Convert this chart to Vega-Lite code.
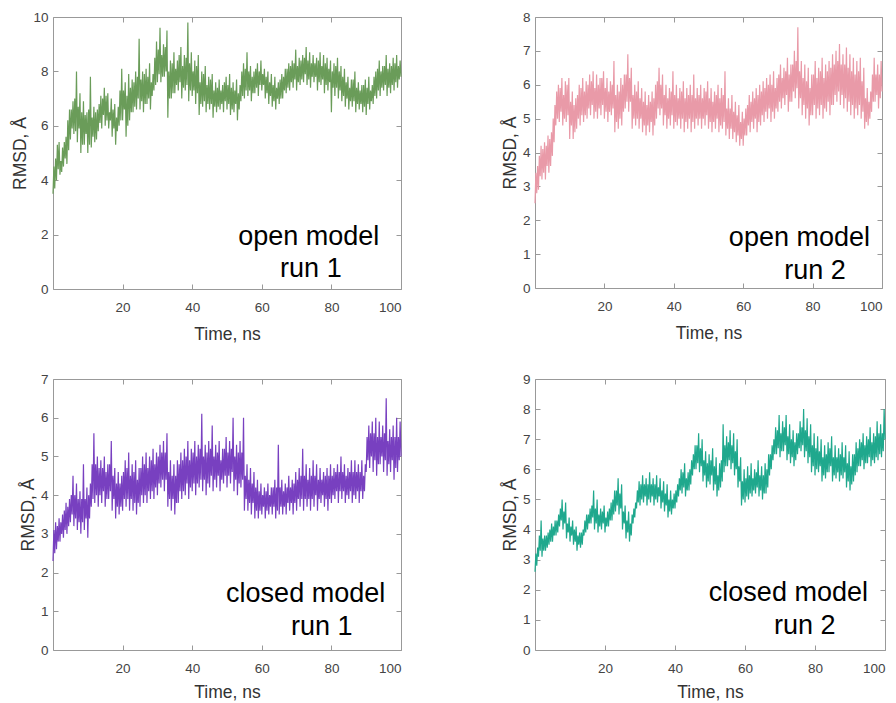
{
  "$schema": "https://vega.github.io/schema/vega-lite/v6.json",
  "padding": {"left": 11, "top": 9, "right": 5, "bottom": 0},
  "spacing": 27,
  "config": {
    "font": "Liberation Sans",
    "view": {"stroke": "#999999", "strokeWidth": 1},
    "axis": {"grid": false, "domain": false, "labelFont": "Liberation Sans", "labelFontSize": 13.5, "labelColor": "#444444", "titleFont": "Liberation Sans", "titleFontSize": 17.5, "titleFontWeight": "normal", "titleColor": "#333333", "tickColor": "#999999", "tickSize": -5},
    "axisX": {"labelPadding": 16, "titlePadding": 12, "titleFontSize": 17.5, "labelFontSize": 13.5},
    "axisY": {"labelPadding": 10, "titlePadding": 3, "titleFontSize": 17.5, "labelFontSize": 13.5}
  },
  "datasets": {
    "o1": [{"t":0,"v":3.5},{"t":0.25,"v":4.5},{"t":0.5,"v":3.7},{"t":0.75,"v":4.8},{"t":1,"v":4.0},{"t":1.25,"v":5.3},{"t":1.5,"v":4.4},{"t":1.75,"v":5.4},{"t":2,"v":4.2},{"t":2.25,"v":4.7},{"t":2.5,"v":4.3},{"t":2.75,"v":5.2},{"t":3,"v":4.5},{"t":3.25,"v":5.4},{"t":3.5,"v":4.8},{"t":3.75,"v":5.6},{"t":4,"v":4.6},{"t":4.25,"v":6.2},{"t":4.5,"v":5.1},{"t":4.75,"v":6.6},{"t":5,"v":5.5},{"t":5.25,"v":6.6},{"t":5.5,"v":5.9},{"t":5.75,"v":6.9},{"t":6,"v":5.7},{"t":6.25,"v":7.0},{"t":6.5,"v":5.8},{"t":6.75,"v":8.0},{"t":7,"v":5.4},{"t":7.25,"v":6.7},{"t":7.5,"v":5.9},{"t":7.75,"v":7.2},{"t":8,"v":5.0},{"t":8.25,"v":6.5},{"t":8.5,"v":5.3},{"t":8.75,"v":6.9},{"t":9,"v":5.3},{"t":9.25,"v":6.4},{"t":9.5,"v":5.7},{"t":9.75,"v":6.5},{"t":10,"v":5.0},{"t":10.25,"v":6.6},{"t":10.5,"v":5.3},{"t":10.75,"v":7.8},{"t":11,"v":5.2},{"t":11.25,"v":6.3},{"t":11.5,"v":5.6},{"t":11.75,"v":6.7},{"t":12,"v":5.4},{"t":12.25,"v":6.5},{"t":12.5,"v":5.5},{"t":12.75,"v":6.6},{"t":13,"v":5.8},{"t":13.25,"v":6.8},{"t":13.5,"v":6.1},{"t":13.75,"v":7.1},{"t":14,"v":5.9},{"t":14.25,"v":7.0},{"t":14.5,"v":6.4},{"t":14.75,"v":7.4},{"t":15,"v":6.0},{"t":15.25,"v":7.1},{"t":15.5,"v":6.2},{"t":15.75,"v":7.2},{"t":16,"v":5.9},{"t":16.25,"v":6.5},{"t":16.5,"v":6.2},{"t":16.75,"v":7.0},{"t":17,"v":5.6},{"t":17.25,"v":6.6},{"t":17.5,"v":5.9},{"t":17.75,"v":6.8},{"t":18,"v":5.3},{"t":18.25,"v":6.3},{"t":18.5,"v":5.8},{"t":18.75,"v":6.7},{"t":19,"v":6.0},{"t":19.25,"v":7.3},{"t":19.5,"v":6.2},{"t":19.75,"v":8.1},{"t":20,"v":6.2},{"t":20.25,"v":7.3},{"t":20.5,"v":6.6},{"t":20.75,"v":7.6},{"t":21,"v":5.6},{"t":21.25,"v":7.1},{"t":21.5,"v":6.0},{"t":21.75,"v":7.9},{"t":22,"v":6.2},{"t":22.25,"v":7.4},{"t":22.5,"v":6.5},{"t":22.75,"v":7.7},{"t":23,"v":6.5},{"t":23.25,"v":7.6},{"t":23.5,"v":6.7},{"t":23.75,"v":8.0},{"t":24,"v":6.6},{"t":24.25,"v":7.8},{"t":24.5,"v":7.0},{"t":24.75,"v":9.2},{"t":25,"v":6.6},{"t":25.25,"v":7.7},{"t":25.5,"v":6.9},{"t":25.75,"v":8.0},{"t":26,"v":6.5},{"t":26.25,"v":7.9},{"t":26.5,"v":6.8},{"t":26.75,"v":8.1},{"t":27,"v":6.8},{"t":27.25,"v":7.8},{"t":27.5,"v":7.0},{"t":27.75,"v":8.3},{"t":28,"v":6.6},{"t":28.25,"v":7.6},{"t":28.5,"v":7.1},{"t":28.75,"v":7.9},{"t":29,"v":7.3},{"t":29.25,"v":8.5},{"t":29.5,"v":7.5},{"t":29.75,"v":9.1},{"t":30,"v":7.6},{"t":30.25,"v":8.8},{"t":30.5,"v":7.9},{"t":30.75,"v":9.6},{"t":31,"v":7.6},{"t":31.25,"v":8.6},{"t":31.5,"v":7.8},{"t":31.75,"v":9.0},{"t":32,"v":7.8},{"t":32.25,"v":8.9},{"t":32.5,"v":8.0},{"t":32.75,"v":9.5},{"t":33,"v":6.3},{"t":33.25,"v":8.0},{"t":33.5,"v":7.0},{"t":33.75,"v":8.4},{"t":34,"v":7.0},{"t":34.25,"v":8.3},{"t":34.5,"v":7.2},{"t":34.75,"v":8.7},{"t":35,"v":7.2},{"t":35.25,"v":8.1},{"t":35.5,"v":7.5},{"t":35.75,"v":8.4},{"t":36,"v":7.3},{"t":36.25,"v":8.6},{"t":36.5,"v":7.6},{"t":36.75,"v":8.9},{"t":37,"v":7.0},{"t":37.25,"v":8.2},{"t":37.5,"v":7.4},{"t":37.75,"v":8.6},{"t":38,"v":7.3},{"t":38.25,"v":8.5},{"t":38.5,"v":7.5},{"t":38.75,"v":9.8},{"t":39,"v":6.9},{"t":39.25,"v":8.3},{"t":39.5,"v":7.3},{"t":39.75,"v":8.7},{"t":40,"v":7.1},{"t":40.25,"v":8.0},{"t":40.5,"v":7.3},{"t":40.75,"v":8.4},{"t":41,"v":6.8},{"t":41.25,"v":8.2},{"t":41.5,"v":7.2},{"t":41.75,"v":8.6},{"t":42,"v":6.4},{"t":42.25,"v":7.6},{"t":42.5,"v":6.8},{"t":42.75,"v":8.0},{"t":43,"v":6.7},{"t":43.25,"v":7.9},{"t":43.5,"v":6.9},{"t":43.75,"v":8.2},{"t":44,"v":6.5},{"t":44.25,"v":7.5},{"t":44.5,"v":6.8},{"t":44.75,"v":7.8},{"t":45,"v":6.6},{"t":45.25,"v":7.7},{"t":45.5,"v":6.8},{"t":45.75,"v":7.9},{"t":46,"v":6.3},{"t":46.25,"v":7.3},{"t":46.5,"v":6.7},{"t":46.75,"v":7.6},{"t":47,"v":6.5},{"t":47.25,"v":7.4},{"t":47.5,"v":6.7},{"t":47.75,"v":7.7},{"t":48,"v":6.6},{"t":48.25,"v":7.3},{"t":48.5,"v":6.8},{"t":48.75,"v":7.5},{"t":49,"v":6.5},{"t":49.25,"v":7.6},{"t":49.5,"v":6.9},{"t":49.75,"v":7.8},{"t":50,"v":6.6},{"t":50.25,"v":7.5},{"t":50.5,"v":6.8},{"t":50.75,"v":7.9},{"t":51,"v":6.4},{"t":51.25,"v":7.4},{"t":51.5,"v":6.6},{"t":51.75,"v":7.6},{"t":52,"v":6.5},{"t":52.25,"v":7.3},{"t":52.5,"v":6.8},{"t":52.75,"v":7.7},{"t":53,"v":6.2},{"t":53.25,"v":7.2},{"t":53.5,"v":6.6},{"t":53.75,"v":7.5},{"t":54,"v":6.9},{"t":54.25,"v":8.0},{"t":54.5,"v":7.1},{"t":54.75,"v":8.3},{"t":55,"v":7.0},{"t":55.25,"v":8.1},{"t":55.5,"v":7.3},{"t":55.75,"v":8.7},{"t":56,"v":7.1},{"t":56.25,"v":8.0},{"t":56.5,"v":7.3},{"t":56.75,"v":8.2},{"t":57,"v":6.9},{"t":57.25,"v":7.8},{"t":57.5,"v":7.2},{"t":57.75,"v":8.0},{"t":58,"v":7.2},{"t":58.25,"v":8.1},{"t":58.5,"v":7.4},{"t":58.75,"v":8.3},{"t":59,"v":7.1},{"t":59.25,"v":8.0},{"t":59.5,"v":7.5},{"t":59.75,"v":8.4},{"t":60,"v":7.3},{"t":60.25,"v":7.9},{"t":60.5,"v":7.5},{"t":60.75,"v":8.1},{"t":61,"v":7.0},{"t":61.25,"v":7.8},{"t":61.5,"v":7.2},{"t":61.75,"v":8.0},{"t":62,"v":6.8},{"t":62.25,"v":7.6},{"t":62.5,"v":7.1},{"t":62.75,"v":7.9},{"t":63,"v":6.7},{"t":63.25,"v":7.5},{"t":63.5,"v":6.9},{"t":63.75,"v":7.8},{"t":64,"v":6.6},{"t":64.25,"v":7.4},{"t":64.5,"v":7.0},{"t":64.75,"v":7.6},{"t":65,"v":6.8},{"t":65.25,"v":7.7},{"t":65.5,"v":7.0},{"t":65.75,"v":7.9},{"t":66,"v":7.0},{"t":66.25,"v":7.8},{"t":66.5,"v":7.3},{"t":66.75,"v":8.1},{"t":67,"v":7.2},{"t":67.25,"v":8.1},{"t":67.5,"v":7.4},{"t":67.75,"v":8.3},{"t":68,"v":7.3},{"t":68.25,"v":8.2},{"t":68.5,"v":7.6},{"t":68.75,"v":8.4},{"t":69,"v":7.4},{"t":69.25,"v":8.3},{"t":69.5,"v":7.7},{"t":69.75,"v":8.8},{"t":70,"v":7.3},{"t":70.25,"v":8.2},{"t":70.5,"v":7.6},{"t":70.75,"v":8.5},{"t":71,"v":7.5},{"t":71.25,"v":8.4},{"t":71.5,"v":7.7},{"t":71.75,"v":8.6},{"t":72,"v":7.6},{"t":72.25,"v":8.5},{"t":72.5,"v":7.9},{"t":72.75,"v":8.9},{"t":73,"v":7.5},{"t":73.25,"v":8.4},{"t":73.5,"v":7.7},{"t":73.75,"v":8.7},{"t":74,"v":7.4},{"t":74.25,"v":8.3},{"t":74.5,"v":7.8},{"t":74.75,"v":8.6},{"t":75,"v":7.6},{"t":75.25,"v":8.3},{"t":75.5,"v":7.8},{"t":75.75,"v":8.5},{"t":76,"v":7.3},{"t":76.25,"v":8.4},{"t":76.5,"v":7.6},{"t":76.75,"v":8.7},{"t":77,"v":7.5},{"t":77.25,"v":8.2},{"t":77.5,"v":7.7},{"t":77.75,"v":8.6},{"t":78,"v":7.2},{"t":78.25,"v":8.3},{"t":78.5,"v":7.5},{"t":78.75,"v":8.5},{"t":79,"v":7.3},{"t":79.25,"v":8.1},{"t":79.5,"v":7.6},{"t":79.75,"v":8.4},{"t":80,"v":6.5},{"t":80.25,"v":8.0},{"t":80.5,"v":7.4},{"t":80.75,"v":8.3},{"t":81,"v":7.1},{"t":81.25,"v":8.2},{"t":81.5,"v":7.4},{"t":81.75,"v":8.5},{"t":82,"v":7.0},{"t":82.25,"v":8.0},{"t":82.5,"v":7.3},{"t":82.75,"v":8.2},{"t":83,"v":6.9},{"t":83.25,"v":7.8},{"t":83.5,"v":7.1},{"t":83.75,"v":8.1},{"t":84,"v":6.7},{"t":84.25,"v":7.6},{"t":84.5,"v":7.0},{"t":84.75,"v":7.8},{"t":85,"v":6.6},{"t":85.25,"v":7.4},{"t":85.5,"v":6.9},{"t":85.75,"v":7.7},{"t":86,"v":6.7},{"t":86.25,"v":7.7},{"t":86.5,"v":6.9},{"t":86.75,"v":8.0},{"t":87,"v":6.5},{"t":87.25,"v":7.4},{"t":87.5,"v":6.8},{"t":87.75,"v":7.6},{"t":88,"v":6.6},{"t":88.25,"v":7.3},{"t":88.5,"v":6.8},{"t":88.75,"v":7.5},{"t":89,"v":6.5},{"t":89.25,"v":7.5},{"t":89.5,"v":6.7},{"t":89.75,"v":7.7},{"t":90,"v":6.4},{"t":90.25,"v":7.4},{"t":90.5,"v":6.8},{"t":90.75,"v":7.8},{"t":91,"v":6.6},{"t":91.25,"v":7.3},{"t":91.5,"v":6.9},{"t":91.75,"v":7.5},{"t":92,"v":6.8},{"t":92.25,"v":7.8},{"t":92.5,"v":7.1},{"t":92.75,"v":8.0},{"t":93,"v":7.0},{"t":93.25,"v":8.1},{"t":93.5,"v":7.3},{"t":93.75,"v":8.4},{"t":94,"v":7.1},{"t":94.25,"v":8.0},{"t":94.5,"v":7.4},{"t":94.75,"v":8.2},{"t":95,"v":7.3},{"t":95.25,"v":8.2},{"t":95.5,"v":7.5},{"t":95.75,"v":8.6},{"t":96,"v":7.1},{"t":96.25,"v":8.1},{"t":96.5,"v":7.4},{"t":96.75,"v":8.3},{"t":97,"v":7.2},{"t":97.25,"v":8.2},{"t":97.5,"v":7.5},{"t":97.75,"v":8.5},{"t":98,"v":7.3},{"t":98.25,"v":8.3},{"t":98.5,"v":7.6},{"t":98.75,"v":8.6},{"t":99,"v":7.4},{"t":99.25,"v":8.2},{"t":99.5,"v":7.7},{"t":99.75,"v":8.4},{"t":100,"v":7.8}],
    "o2": [{"t":0,"v":2.5},{"t":0.25,"v":3.4},{"t":0.5,"v":2.8},{"t":0.75,"v":3.6},{"t":1,"v":2.9},{"t":1.25,"v":3.9},{"t":1.5,"v":3.3},{"t":1.75,"v":4.2},{"t":2,"v":3.2},{"t":2.25,"v":4.1},{"t":2.5,"v":3.4},{"t":2.75,"v":4.3},{"t":3,"v":3.2},{"t":3.25,"v":4.2},{"t":3.5,"v":3.6},{"t":3.75,"v":4.5},{"t":4,"v":3.4},{"t":4.25,"v":4.4},{"t":4.5,"v":3.6},{"t":4.75,"v":4.6},{"t":5,"v":3.9},{"t":5.25,"v":5.0},{"t":5.5,"v":4.3},{"t":5.75,"v":5.4},{"t":6,"v":4.8},{"t":6.25,"v":5.8},{"t":6.5,"v":5.0},{"t":6.75,"v":6.0},{"t":7,"v":4.9},{"t":7.25,"v":5.9},{"t":7.5,"v":5.2},{"t":7.75,"v":6.2},{"t":8,"v":4.8},{"t":8.25,"v":5.7},{"t":8.5,"v":5.0},{"t":8.75,"v":6.1},{"t":9,"v":4.9},{"t":9.25,"v":6.0},{"t":9.5,"v":5.1},{"t":9.75,"v":6.2},{"t":10,"v":4.4},{"t":10.25,"v":5.5},{"t":10.5,"v":4.8},{"t":10.75,"v":5.8},{"t":11,"v":4.4},{"t":11.25,"v":5.4},{"t":11.5,"v":4.6},{"t":11.75,"v":5.6},{"t":12,"v":4.7},{"t":12.25,"v":5.7},{"t":12.5,"v":5.0},{"t":12.75,"v":6.0},{"t":13,"v":4.8},{"t":13.25,"v":5.9},{"t":13.5,"v":5.1},{"t":13.75,"v":6.2},{"t":14,"v":4.9},{"t":14.25,"v":5.8},{"t":14.5,"v":5.1},{"t":14.75,"v":6.1},{"t":15,"v":5.0},{"t":15.25,"v":6.0},{"t":15.5,"v":5.3},{"t":15.75,"v":6.3},{"t":16,"v":5.1},{"t":16.25,"v":6.1},{"t":16.5,"v":5.4},{"t":16.75,"v":6.4},{"t":17,"v":5.0},{"t":17.25,"v":5.9},{"t":17.5,"v":5.2},{"t":17.75,"v":6.3},{"t":18,"v":5.0},{"t":18.25,"v":6.0},{"t":18.5,"v":5.3},{"t":18.75,"v":6.2},{"t":19,"v":5.1},{"t":19.25,"v":6.2},{"t":19.5,"v":5.4},{"t":19.75,"v":6.4},{"t":20,"v":5.0},{"t":20.25,"v":5.9},{"t":20.5,"v":5.2},{"t":20.75,"v":6.2},{"t":21,"v":4.9},{"t":21.25,"v":5.8},{"t":21.5,"v":5.2},{"t":21.75,"v":6.1},{"t":22,"v":5.1},{"t":22.25,"v":6.0},{"t":22.5,"v":5.3},{"t":22.75,"v":6.7},{"t":23,"v":4.6},{"t":23.25,"v":5.7},{"t":23.5,"v":4.9},{"t":23.75,"v":6.0},{"t":24,"v":4.7},{"t":24.25,"v":5.8},{"t":24.5,"v":5.0},{"t":24.75,"v":6.2},{"t":25,"v":4.8},{"t":25.25,"v":6.0},{"t":25.5,"v":5.2},{"t":25.75,"v":6.3},{"t":26,"v":5.3},{"t":26.25,"v":6.3},{"t":26.5,"v":5.5},{"t":26.75,"v":6.9},{"t":27,"v":5.2},{"t":27.25,"v":6.2},{"t":27.5,"v":5.5},{"t":27.75,"v":6.5},{"t":28,"v":4.7},{"t":28.25,"v":5.7},{"t":28.5,"v":5.0},{"t":28.75,"v":6.0},{"t":29,"v":4.8},{"t":29.25,"v":5.8},{"t":29.5,"v":5.0},{"t":29.75,"v":6.1},{"t":30,"v":4.7},{"t":30.25,"v":5.6},{"t":30.5,"v":5.0},{"t":30.75,"v":5.9},{"t":31,"v":4.6},{"t":31.25,"v":5.5},{"t":31.5,"v":4.8},{"t":31.75,"v":5.8},{"t":32,"v":4.5},{"t":32.25,"v":5.4},{"t":32.5,"v":4.8},{"t":32.75,"v":5.7},{"t":33,"v":4.6},{"t":33.25,"v":5.5},{"t":33.5,"v":4.9},{"t":33.75,"v":5.8},{"t":34,"v":4.5},{"t":34.25,"v":5.6},{"t":34.5,"v":4.8},{"t":34.75,"v":6.0},{"t":35,"v":5.0},{"t":35.25,"v":6.1},{"t":35.5,"v":5.3},{"t":35.75,"v":6.5},{"t":36,"v":5.1},{"t":36.25,"v":6.0},{"t":36.5,"v":5.3},{"t":36.75,"v":6.3},{"t":37,"v":4.8},{"t":37.25,"v":5.7},{"t":37.5,"v":5.1},{"t":37.75,"v":6.0},{"t":38,"v":4.7},{"t":38.25,"v":5.6},{"t":38.5,"v":5.0},{"t":38.75,"v":5.9},{"t":39,"v":4.8},{"t":39.25,"v":5.8},{"t":39.5,"v":5.1},{"t":39.75,"v":6.4},{"t":40,"v":4.7},{"t":40.25,"v":5.7},{"t":40.5,"v":4.9},{"t":40.75,"v":6.0},{"t":41,"v":4.8},{"t":41.25,"v":5.6},{"t":41.5,"v":5.0},{"t":41.75,"v":5.9},{"t":42,"v":4.7},{"t":42.25,"v":5.8},{"t":42.5,"v":5.0},{"t":42.75,"v":6.1},{"t":43,"v":4.6},{"t":43.25,"v":5.6},{"t":43.5,"v":4.9},{"t":43.75,"v":5.9},{"t":44,"v":4.7},{"t":44.25,"v":5.7},{"t":44.5,"v":5.0},{"t":44.75,"v":6.0},{"t":45,"v":4.6},{"t":45.25,"v":5.7},{"t":45.5,"v":4.9},{"t":45.75,"v":6.3},{"t":46,"v":4.7},{"t":46.25,"v":5.6},{"t":46.5,"v":5.0},{"t":46.75,"v":5.9},{"t":47,"v":4.8},{"t":47.25,"v":5.7},{"t":47.5,"v":5.0},{"t":47.75,"v":6.0},{"t":48,"v":4.7},{"t":48.25,"v":5.6},{"t":48.5,"v":5.0},{"t":48.75,"v":5.9},{"t":49,"v":4.8},{"t":49.25,"v":5.8},{"t":49.5,"v":5.1},{"t":49.75,"v":6.1},{"t":50,"v":4.7},{"t":50.25,"v":5.6},{"t":50.5,"v":4.9},{"t":50.75,"v":5.9},{"t":51,"v":4.6},{"t":51.25,"v":5.5},{"t":51.5,"v":4.9},{"t":51.75,"v":5.8},{"t":52,"v":4.7},{"t":52.25,"v":5.7},{"t":52.5,"v":5.0},{"t":52.75,"v":6.0},{"t":53,"v":4.6},{"t":53.25,"v":5.6},{"t":53.5,"v":4.8},{"t":53.75,"v":5.9},{"t":54,"v":4.7},{"t":54.25,"v":5.7},{"t":54.5,"v":4.9},{"t":54.75,"v":6.4},{"t":55,"v":4.5},{"t":55.25,"v":5.3},{"t":55.5,"v":4.7},{"t":55.75,"v":5.6},{"t":56,"v":4.4},{"t":56.25,"v":5.3},{"t":56.5,"v":4.7},{"t":56.75,"v":5.7},{"t":57,"v":4.4},{"t":57.25,"v":5.2},{"t":57.5,"v":4.6},{"t":57.75,"v":5.5},{"t":58,"v":4.3},{"t":58.25,"v":5.1},{"t":58.5,"v":4.5},{"t":58.75,"v":5.4},{"t":59,"v":4.2},{"t":59.25,"v":4.9},{"t":59.5,"v":4.4},{"t":59.75,"v":5.2},{"t":60,"v":4.2},{"t":60.25,"v":5.0},{"t":60.5,"v":4.5},{"t":60.75,"v":5.3},{"t":61,"v":4.5},{"t":61.25,"v":5.4},{"t":61.5,"v":4.8},{"t":61.75,"v":5.7},{"t":62,"v":4.6},{"t":62.25,"v":5.5},{"t":62.5,"v":4.9},{"t":62.75,"v":5.8},{"t":63,"v":4.7},{"t":63.25,"v":5.6},{"t":63.5,"v":5.0},{"t":63.75,"v":5.9},{"t":64,"v":4.6},{"t":64.25,"v":5.7},{"t":64.5,"v":4.9},{"t":64.75,"v":6.0},{"t":65,"v":4.8},{"t":65.25,"v":5.8},{"t":65.5,"v":5.1},{"t":65.75,"v":6.1},{"t":66,"v":4.9},{"t":66.25,"v":5.9},{"t":66.5,"v":5.2},{"t":66.75,"v":6.2},{"t":67,"v":5.0},{"t":67.25,"v":6.0},{"t":67.5,"v":5.3},{"t":67.75,"v":6.3},{"t":68,"v":4.9},{"t":68.25,"v":6.0},{"t":68.5,"v":5.2},{"t":68.75,"v":6.4},{"t":69,"v":5.0},{"t":69.25,"v":5.9},{"t":69.5,"v":5.3},{"t":69.75,"v":6.2},{"t":70,"v":5.2},{"t":70.25,"v":6.3},{"t":70.5,"v":5.5},{"t":70.75,"v":6.6},{"t":71,"v":5.3},{"t":71.25,"v":6.2},{"t":71.5,"v":5.6},{"t":71.75,"v":6.5},{"t":72,"v":5.4},{"t":72.25,"v":6.4},{"t":72.5,"v":5.7},{"t":72.75,"v":6.8},{"t":73,"v":5.2},{"t":73.25,"v":6.3},{"t":73.5,"v":5.5},{"t":73.75,"v":6.6},{"t":74,"v":5.5},{"t":74.25,"v":6.6},{"t":74.5,"v":5.8},{"t":74.75,"v":7.0},{"t":75,"v":5.6},{"t":75.25,"v":6.7},{"t":75.5,"v":5.9},{"t":75.75,"v":7.7},{"t":76,"v":5.3},{"t":76.25,"v":6.4},{"t":76.5,"v":5.6},{"t":76.75,"v":6.7},{"t":77,"v":5.1},{"t":77.25,"v":6.2},{"t":77.5,"v":5.4},{"t":77.75,"v":6.6},{"t":78,"v":5.0},{"t":78.25,"v":6.1},{"t":78.5,"v":5.3},{"t":78.75,"v":6.5},{"t":79,"v":4.8},{"t":79.25,"v":5.9},{"t":79.5,"v":5.1},{"t":79.75,"v":6.3},{"t":80,"v":5.1},{"t":80.25,"v":6.3},{"t":80.5,"v":5.4},{"t":80.75,"v":6.7},{"t":81,"v":5.0},{"t":81.25,"v":6.2},{"t":81.5,"v":5.3},{"t":81.75,"v":6.5},{"t":82,"v":5.1},{"t":82.25,"v":6.4},{"t":82.5,"v":5.4},{"t":82.75,"v":6.8},{"t":83,"v":5.0},{"t":83.25,"v":6.2},{"t":83.5,"v":5.3},{"t":83.75,"v":6.6},{"t":84,"v":5.2},{"t":84.25,"v":6.4},{"t":84.5,"v":5.5},{"t":84.75,"v":6.7},{"t":85,"v":5.1},{"t":85.25,"v":6.5},{"t":85.5,"v":5.4},{"t":85.75,"v":6.9},{"t":86,"v":5.4},{"t":86.25,"v":6.6},{"t":86.5,"v":5.7},{"t":86.75,"v":7.0},{"t":87,"v":5.5},{"t":87.25,"v":6.7},{"t":87.5,"v":5.8},{"t":87.75,"v":7.2},{"t":88,"v":5.4},{"t":88.25,"v":6.6},{"t":88.5,"v":5.7},{"t":88.75,"v":6.9},{"t":89,"v":5.3},{"t":89.25,"v":6.6},{"t":89.5,"v":5.6},{"t":89.75,"v":7.1},{"t":90,"v":5.2},{"t":90.25,"v":6.5},{"t":90.5,"v":5.5},{"t":90.75,"v":6.9},{"t":91,"v":5.1},{"t":91.25,"v":6.4},{"t":91.5,"v":5.4},{"t":91.75,"v":6.8},{"t":92,"v":5.0},{"t":92.25,"v":6.3},{"t":92.5,"v":5.3},{"t":92.75,"v":6.7},{"t":93,"v":5.1},{"t":93.25,"v":6.4},{"t":93.5,"v":5.4},{"t":93.75,"v":6.8},{"t":94,"v":5.0},{"t":94.25,"v":6.1},{"t":94.5,"v":5.2},{"t":94.75,"v":6.5},{"t":95,"v":4.7},{"t":95.25,"v":5.6},{"t":95.5,"v":4.9},{"t":95.75,"v":5.9},{"t":96,"v":4.8},{"t":96.25,"v":5.5},{"t":96.5,"v":5.0},{"t":96.75,"v":5.8},{"t":97,"v":5.2},{"t":97.25,"v":6.3},{"t":97.5,"v":5.5},{"t":97.75,"v":6.8},{"t":98,"v":5.5},{"t":98.25,"v":6.3},{"t":98.5,"v":5.7},{"t":98.75,"v":6.6},{"t":99,"v":5.3},{"t":99.25,"v":6.3},{"t":99.5,"v":5.6},{"t":99.75,"v":6.7},{"t":100,"v":5.8}],
    "c1": [{"t":0,"v":2.3},{"t":0.25,"v":3.1},{"t":0.5,"v":2.5},{"t":0.75,"v":3.3},{"t":1,"v":2.6},{"t":1.25,"v":3.2},{"t":1.5,"v":2.8},{"t":1.75,"v":3.4},{"t":2,"v":2.8},{"t":2.25,"v":3.3},{"t":2.5,"v":3.0},{"t":2.75,"v":3.5},{"t":3,"v":2.9},{"t":3.25,"v":3.6},{"t":3.5,"v":3.1},{"t":3.75,"v":3.8},{"t":4,"v":3.0},{"t":4.25,"v":3.7},{"t":4.5,"v":3.2},{"t":4.75,"v":3.9},{"t":5,"v":3.3},{"t":5.25,"v":4.0},{"t":5.5,"v":3.5},{"t":5.75,"v":4.5},{"t":6,"v":3.2},{"t":6.25,"v":4.0},{"t":6.5,"v":3.4},{"t":6.75,"v":4.3},{"t":7,"v":3.1},{"t":7.25,"v":3.9},{"t":7.5,"v":3.3},{"t":7.75,"v":4.1},{"t":8,"v":3.0},{"t":8.25,"v":3.9},{"t":8.5,"v":3.3},{"t":8.75,"v":4.8},{"t":9,"v":3.1},{"t":9.25,"v":3.9},{"t":9.5,"v":3.4},{"t":9.75,"v":4.2},{"t":10,"v":2.9},{"t":10.25,"v":4.0},{"t":10.5,"v":3.4},{"t":10.75,"v":4.3},{"t":11,"v":3.7},{"t":11.25,"v":4.8},{"t":11.5,"v":3.9},{"t":11.75,"v":5.6},{"t":12,"v":3.8},{"t":12.25,"v":4.8},{"t":12.5,"v":4.0},{"t":12.75,"v":5.0},{"t":13,"v":3.7},{"t":13.25,"v":4.7},{"t":13.5,"v":4.0},{"t":13.75,"v":4.9},{"t":14,"v":3.8},{"t":14.25,"v":4.7},{"t":14.5,"v":4.1},{"t":14.75,"v":5.0},{"t":15,"v":3.7},{"t":15.25,"v":4.6},{"t":15.5,"v":3.9},{"t":15.75,"v":4.8},{"t":16,"v":3.9},{"t":16.25,"v":4.8},{"t":16.5,"v":4.1},{"t":16.75,"v":5.4},{"t":17,"v":3.6},{"t":17.25,"v":4.5},{"t":17.5,"v":3.9},{"t":17.75,"v":4.7},{"t":18,"v":3.4},{"t":18.25,"v":4.3},{"t":18.5,"v":3.7},{"t":18.75,"v":4.6},{"t":19,"v":3.5},{"t":19.25,"v":4.3},{"t":19.5,"v":3.7},{"t":19.75,"v":4.5},{"t":20,"v":3.6},{"t":20.25,"v":4.6},{"t":20.5,"v":3.9},{"t":20.75,"v":4.9},{"t":21,"v":3.7},{"t":21.25,"v":4.7},{"t":21.5,"v":3.9},{"t":21.75,"v":5.1},{"t":22,"v":3.6},{"t":22.25,"v":4.5},{"t":22.5,"v":3.9},{"t":22.75,"v":4.8},{"t":23,"v":3.6},{"t":23.25,"v":4.6},{"t":23.5,"v":3.8},{"t":23.75,"v":4.9},{"t":24,"v":3.5},{"t":24.25,"v":4.4},{"t":24.5,"v":3.8},{"t":24.75,"v":4.7},{"t":25,"v":3.7},{"t":25.25,"v":4.7},{"t":25.5,"v":4.0},{"t":25.75,"v":5.0},{"t":26,"v":3.8},{"t":26.25,"v":4.8},{"t":26.5,"v":4.0},{"t":26.75,"v":5.1},{"t":27,"v":3.8},{"t":27.25,"v":4.7},{"t":27.5,"v":4.1},{"t":27.75,"v":5.0},{"t":28,"v":3.9},{"t":28.25,"v":4.9},{"t":28.5,"v":4.1},{"t":28.75,"v":5.2},{"t":29,"v":3.9},{"t":29.25,"v":4.8},{"t":29.5,"v":4.2},{"t":29.75,"v":5.1},{"t":30,"v":4.0},{"t":30.25,"v":5.0},{"t":30.5,"v":4.3},{"t":30.75,"v":5.3},{"t":31,"v":4.2},{"t":31.25,"v":5.1},{"t":31.5,"v":4.4},{"t":31.75,"v":5.4},{"t":32,"v":4.1},{"t":32.25,"v":5.1},{"t":32.5,"v":4.4},{"t":32.75,"v":5.6},{"t":33,"v":3.7},{"t":33.25,"v":4.6},{"t":33.5,"v":3.9},{"t":33.75,"v":4.9},{"t":34,"v":3.6},{"t":34.25,"v":4.5},{"t":34.5,"v":3.9},{"t":34.75,"v":4.8},{"t":35,"v":3.5},{"t":35.25,"v":4.5},{"t":35.5,"v":3.8},{"t":35.75,"v":4.9},{"t":36,"v":3.8},{"t":36.25,"v":4.8},{"t":36.5,"v":4.1},{"t":36.75,"v":5.1},{"t":37,"v":3.9},{"t":37.25,"v":4.9},{"t":37.5,"v":4.1},{"t":37.75,"v":5.2},{"t":38,"v":4.0},{"t":38.25,"v":5.0},{"t":38.5,"v":4.3},{"t":38.75,"v":5.4},{"t":39,"v":3.9},{"t":39.25,"v":4.9},{"t":39.5,"v":4.2},{"t":39.75,"v":5.2},{"t":40,"v":4.1},{"t":40.25,"v":5.1},{"t":40.5,"v":4.3},{"t":40.75,"v":5.4},{"t":41,"v":4.0},{"t":41.25,"v":5.0},{"t":41.5,"v":4.3},{"t":41.75,"v":5.3},{"t":42,"v":4.2},{"t":42.25,"v":5.2},{"t":42.5,"v":4.4},{"t":42.75,"v":6.1},{"t":43,"v":4.1},{"t":43.25,"v":5.0},{"t":43.5,"v":4.4},{"t":43.75,"v":5.3},{"t":44,"v":4.0},{"t":44.25,"v":5.1},{"t":44.5,"v":4.3},{"t":44.75,"v":5.4},{"t":45,"v":4.2},{"t":45.25,"v":5.2},{"t":45.5,"v":4.5},{"t":45.75,"v":5.8},{"t":46,"v":4.1},{"t":46.25,"v":5.0},{"t":46.5,"v":4.4},{"t":46.75,"v":5.3},{"t":47,"v":4.2},{"t":47.25,"v":5.1},{"t":47.5,"v":4.5},{"t":47.75,"v":5.4},{"t":48,"v":4.1},{"t":48.25,"v":4.9},{"t":48.5,"v":4.4},{"t":48.75,"v":5.2},{"t":49,"v":4.3},{"t":49.25,"v":5.2},{"t":49.5,"v":4.5},{"t":49.75,"v":5.5},{"t":50,"v":4.2},{"t":50.25,"v":5.1},{"t":50.5,"v":4.5},{"t":50.75,"v":5.4},{"t":51,"v":4.3},{"t":51.25,"v":5.2},{"t":51.5,"v":4.6},{"t":51.75,"v":6.0},{"t":52,"v":4.1},{"t":52.25,"v":5.0},{"t":52.5,"v":4.4},{"t":52.75,"v":5.3},{"t":53,"v":4.0},{"t":53.25,"v":5.1},{"t":53.5,"v":4.3},{"t":53.75,"v":5.4},{"t":54,"v":4.2},{"t":54.25,"v":5.1},{"t":54.5,"v":4.4},{"t":54.75,"v":6.0},{"t":55,"v":3.6},{"t":55.25,"v":4.5},{"t":55.5,"v":3.9},{"t":55.75,"v":4.8},{"t":56,"v":3.6},{"t":56.25,"v":4.4},{"t":56.5,"v":3.8},{"t":56.75,"v":4.7},{"t":57,"v":3.5},{"t":57.25,"v":4.3},{"t":57.5,"v":3.8},{"t":57.75,"v":4.6},{"t":58,"v":3.4},{"t":58.25,"v":4.2},{"t":58.5,"v":3.6},{"t":58.75,"v":4.4},{"t":59,"v":3.4},{"t":59.25,"v":4.1},{"t":59.5,"v":3.6},{"t":59.75,"v":4.3},{"t":60,"v":3.5},{"t":60.25,"v":4.0},{"t":60.5,"v":3.7},{"t":60.75,"v":4.2},{"t":61,"v":3.4},{"t":61.25,"v":4.1},{"t":61.5,"v":3.6},{"t":61.75,"v":4.3},{"t":62,"v":3.5},{"t":62.25,"v":4.0},{"t":62.5,"v":3.7},{"t":62.75,"v":4.2},{"t":63,"v":3.5},{"t":63.25,"v":4.2},{"t":63.5,"v":3.7},{"t":63.75,"v":4.4},{"t":64,"v":3.4},{"t":64.25,"v":4.2},{"t":64.5,"v":3.6},{"t":64.75,"v":5.3},{"t":65,"v":3.5},{"t":65.25,"v":4.2},{"t":65.5,"v":3.7},{"t":65.75,"v":4.4},{"t":66,"v":3.5},{"t":66.25,"v":4.1},{"t":66.5,"v":3.7},{"t":66.75,"v":4.3},{"t":67,"v":3.5},{"t":67.25,"v":4.2},{"t":67.5,"v":3.8},{"t":67.75,"v":4.5},{"t":68,"v":3.6},{"t":68.25,"v":4.2},{"t":68.5,"v":3.8},{"t":68.75,"v":4.4},{"t":69,"v":3.5},{"t":69.25,"v":4.3},{"t":69.5,"v":3.8},{"t":69.75,"v":4.6},{"t":70,"v":3.6},{"t":70.25,"v":4.4},{"t":70.5,"v":3.9},{"t":70.75,"v":4.7},{"t":71,"v":3.7},{"t":71.25,"v":4.5},{"t":71.5,"v":3.9},{"t":71.75,"v":5.2},{"t":72,"v":3.6},{"t":72.25,"v":4.5},{"t":72.5,"v":3.9},{"t":72.75,"v":4.8},{"t":73,"v":3.7},{"t":73.25,"v":4.4},{"t":73.5,"v":3.9},{"t":73.75,"v":4.7},{"t":74,"v":3.6},{"t":74.25,"v":4.5},{"t":74.5,"v":3.9},{"t":74.75,"v":4.9},{"t":75,"v":3.7},{"t":75.25,"v":4.5},{"t":75.5,"v":4.0},{"t":75.75,"v":4.8},{"t":76,"v":3.6},{"t":76.25,"v":4.4},{"t":76.5,"v":3.9},{"t":76.75,"v":4.7},{"t":77,"v":3.8},{"t":77.25,"v":4.4},{"t":77.5,"v":4.0},{"t":77.75,"v":4.6},{"t":78,"v":3.7},{"t":78.25,"v":4.5},{"t":78.5,"v":3.9},{"t":78.75,"v":4.7},{"t":79,"v":3.6},{"t":79.25,"v":4.5},{"t":79.5,"v":3.9},{"t":79.75,"v":4.8},{"t":80,"v":3.8},{"t":80.25,"v":4.5},{"t":80.5,"v":4.0},{"t":80.75,"v":4.7},{"t":81,"v":3.9},{"t":81.25,"v":4.6},{"t":81.5,"v":4.1},{"t":81.75,"v":4.8},{"t":82,"v":3.8},{"t":82.25,"v":4.6},{"t":82.5,"v":4.1},{"t":82.75,"v":5.0},{"t":83,"v":3.9},{"t":83.25,"v":4.6},{"t":83.5,"v":4.1},{"t":83.75,"v":4.8},{"t":84,"v":3.8},{"t":84.25,"v":4.5},{"t":84.5,"v":4.0},{"t":84.75,"v":4.7},{"t":85,"v":3.9},{"t":85.25,"v":4.6},{"t":85.5,"v":4.1},{"t":85.75,"v":4.9},{"t":86,"v":3.8},{"t":86.25,"v":4.6},{"t":86.5,"v":4.0},{"t":86.75,"v":4.9},{"t":87,"v":3.9},{"t":87.25,"v":4.6},{"t":87.5,"v":4.1},{"t":87.75,"v":4.8},{"t":88,"v":3.8},{"t":88.25,"v":4.6},{"t":88.5,"v":4.1},{"t":88.75,"v":4.9},{"t":89,"v":3.9},{"t":89.25,"v":4.5},{"t":89.5,"v":4.1},{"t":89.75,"v":4.8},{"t":90,"v":4.6},{"t":90.25,"v":5.5},{"t":90.5,"v":4.9},{"t":90.75,"v":5.8},{"t":91,"v":4.7},{"t":91.25,"v":5.6},{"t":91.5,"v":5.0},{"t":91.75,"v":5.9},{"t":92,"v":4.6},{"t":92.25,"v":5.6},{"t":92.5,"v":4.9},{"t":92.75,"v":6.0},{"t":93,"v":4.5},{"t":93.25,"v":5.5},{"t":93.5,"v":4.8},{"t":93.75,"v":5.9},{"t":94,"v":4.8},{"t":94.25,"v":5.5},{"t":94.5,"v":5.0},{"t":94.75,"v":5.8},{"t":95,"v":4.6},{"t":95.25,"v":5.6},{"t":95.5,"v":4.9},{"t":95.75,"v":6.5},{"t":96,"v":4.5},{"t":96.25,"v":5.4},{"t":96.5,"v":4.8},{"t":96.75,"v":5.7},{"t":97,"v":4.6},{"t":97.25,"v":5.5},{"t":97.5,"v":4.9},{"t":97.75,"v":5.8},{"t":98,"v":4.4},{"t":98.25,"v":5.5},{"t":98.5,"v":4.7},{"t":98.75,"v":6.0},{"t":99,"v":4.6},{"t":99.25,"v":5.5},{"t":99.5,"v":4.9},{"t":99.75,"v":5.9},{"t":100,"v":5.0}],
    "c2": [{"t":0,"v":2.6},{"t":0.25,"v":3.2},{"t":0.5,"v":2.8},{"t":0.75,"v":3.4},{"t":1,"v":3.1},{"t":1.25,"v":3.8},{"t":1.5,"v":3.3},{"t":1.75,"v":4.3},{"t":2,"v":3.1},{"t":2.25,"v":3.7},{"t":2.5,"v":3.3},{"t":2.75,"v":3.8},{"t":3,"v":3.3},{"t":3.25,"v":3.8},{"t":3.5,"v":3.4},{"t":3.75,"v":3.9},{"t":4,"v":3.5},{"t":4.25,"v":4.0},{"t":4.5,"v":3.6},{"t":4.75,"v":4.2},{"t":5,"v":3.6},{"t":5.25,"v":4.1},{"t":5.5,"v":3.8},{"t":5.75,"v":4.3},{"t":6,"v":3.8},{"t":6.25,"v":4.3},{"t":6.5,"v":3.9},{"t":6.75,"v":4.5},{"t":7,"v":4.1},{"t":7.25,"v":4.7},{"t":7.5,"v":4.3},{"t":7.75,"v":5.0},{"t":8,"v":4.0},{"t":8.25,"v":4.6},{"t":8.5,"v":4.2},{"t":8.75,"v":4.9},{"t":9,"v":3.7},{"t":9.25,"v":4.2},{"t":9.5,"v":3.9},{"t":9.75,"v":4.4},{"t":10,"v":3.6},{"t":10.25,"v":4.1},{"t":10.5,"v":3.8},{"t":10.75,"v":4.3},{"t":11,"v":3.5},{"t":11.25,"v":4.0},{"t":11.5,"v":3.6},{"t":11.75,"v":4.1},{"t":12,"v":3.3},{"t":12.25,"v":3.8},{"t":12.5,"v":3.5},{"t":12.75,"v":3.9},{"t":13,"v":3.4},{"t":13.25,"v":3.9},{"t":13.5,"v":3.5},{"t":13.75,"v":4.0},{"t":14,"v":3.8},{"t":14.25,"v":4.3},{"t":14.5,"v":3.9},{"t":14.75,"v":4.5},{"t":15,"v":4.0},{"t":15.25,"v":4.5},{"t":15.5,"v":4.2},{"t":15.75,"v":4.7},{"t":16,"v":4.2},{"t":16.25,"v":4.8},{"t":16.5,"v":4.4},{"t":16.75,"v":5.3},{"t":17,"v":4.0},{"t":17.25,"v":4.7},{"t":17.5,"v":4.2},{"t":17.75,"v":5.0},{"t":18,"v":3.9},{"t":18.25,"v":4.5},{"t":18.5,"v":4.1},{"t":18.75,"v":4.7},{"t":19,"v":4.0},{"t":19.25,"v":4.6},{"t":19.5,"v":4.2},{"t":19.75,"v":4.8},{"t":20,"v":3.9},{"t":20.25,"v":4.4},{"t":20.5,"v":4.1},{"t":20.75,"v":4.6},{"t":21,"v":4.1},{"t":21.25,"v":4.7},{"t":21.5,"v":4.3},{"t":21.75,"v":4.9},{"t":22,"v":4.3},{"t":22.25,"v":5.0},{"t":22.5,"v":4.5},{"t":22.75,"v":5.3},{"t":23,"v":4.6},{"t":23.25,"v":5.3},{"t":23.5,"v":4.8},{"t":23.75,"v":5.7},{"t":24,"v":4.5},{"t":24.25,"v":5.2},{"t":24.5,"v":4.7},{"t":24.75,"v":5.5},{"t":25,"v":4.0},{"t":25.25,"v":4.6},{"t":25.5,"v":4.2},{"t":25.75,"v":4.8},{"t":26,"v":3.7},{"t":26.25,"v":4.3},{"t":26.5,"v":3.9},{"t":26.75,"v":4.6},{"t":27,"v":3.6},{"t":27.25,"v":4.2},{"t":27.5,"v":3.8},{"t":27.75,"v":4.5},{"t":28,"v":4.2},{"t":28.25,"v":4.7},{"t":28.5,"v":4.4},{"t":28.75,"v":4.9},{"t":29,"v":4.7},{"t":29.25,"v":5.3},{"t":29.5,"v":4.9},{"t":29.75,"v":5.6},{"t":30,"v":4.8},{"t":30.25,"v":5.5},{"t":30.5,"v":5.0},{"t":30.75,"v":5.8},{"t":31,"v":4.9},{"t":31.25,"v":5.5},{"t":31.5,"v":5.1},{"t":31.75,"v":5.7},{"t":32,"v":4.8},{"t":32.25,"v":5.5},{"t":32.5,"v":5.0},{"t":32.75,"v":5.9},{"t":33,"v":4.9},{"t":33.25,"v":5.5},{"t":33.5,"v":5.1},{"t":33.75,"v":5.7},{"t":34,"v":4.8},{"t":34.25,"v":5.5},{"t":34.5,"v":5.0},{"t":34.75,"v":5.8},{"t":35,"v":4.9},{"t":35.25,"v":5.4},{"t":35.5,"v":5.1},{"t":35.75,"v":5.7},{"t":36,"v":4.7},{"t":36.25,"v":5.3},{"t":36.5,"v":4.9},{"t":36.75,"v":5.6},{"t":37,"v":4.6},{"t":37.25,"v":5.2},{"t":37.5,"v":4.8},{"t":37.75,"v":5.5},{"t":38,"v":4.4},{"t":38.25,"v":5.0},{"t":38.5,"v":4.6},{"t":38.75,"v":5.3},{"t":39,"v":4.5},{"t":39.25,"v":5.0},{"t":39.5,"v":4.7},{"t":39.75,"v":5.2},{"t":40,"v":4.7},{"t":40.25,"v":5.3},{"t":40.5,"v":4.9},{"t":40.75,"v":5.5},{"t":41,"v":5.1},{"t":41.25,"v":5.7},{"t":41.5,"v":5.3},{"t":41.75,"v":6.0},{"t":42,"v":5.2},{"t":42.25,"v":5.9},{"t":42.5,"v":5.4},{"t":42.75,"v":6.2},{"t":43,"v":5.1},{"t":43.25,"v":5.7},{"t":43.5,"v":5.3},{"t":43.75,"v":5.9},{"t":44,"v":5.3},{"t":44.25,"v":6.0},{"t":44.5,"v":5.5},{"t":44.75,"v":6.3},{"t":45,"v":5.8},{"t":45.25,"v":6.5},{"t":45.5,"v":6.0},{"t":45.75,"v":6.8},{"t":46,"v":6.0},{"t":46.25,"v":6.8},{"t":46.5,"v":6.2},{"t":46.75,"v":7.2},{"t":47,"v":5.9},{"t":47.25,"v":6.7},{"t":47.5,"v":6.1},{"t":47.75,"v":7.0},{"t":48,"v":5.6},{"t":48.25,"v":6.3},{"t":48.5,"v":5.8},{"t":48.75,"v":6.6},{"t":49,"v":5.4},{"t":49.25,"v":6.2},{"t":49.5,"v":5.6},{"t":49.75,"v":6.5},{"t":50,"v":5.5},{"t":50.25,"v":6.3},{"t":50.5,"v":5.8},{"t":50.75,"v":6.7},{"t":51,"v":5.3},{"t":51.25,"v":6.1},{"t":51.5,"v":5.5},{"t":51.75,"v":6.4},{"t":52,"v":5.1},{"t":52.25,"v":5.8},{"t":52.5,"v":5.3},{"t":52.75,"v":6.2},{"t":53,"v":5.4},{"t":53.25,"v":6.3},{"t":53.5,"v":5.6},{"t":53.75,"v":7.5},{"t":54,"v":5.9},{"t":54.25,"v":6.8},{"t":54.5,"v":6.1},{"t":54.75,"v":7.1},{"t":55,"v":6.1},{"t":55.25,"v":6.9},{"t":55.5,"v":6.3},{"t":55.75,"v":7.3},{"t":56,"v":6.0},{"t":56.25,"v":6.8},{"t":56.5,"v":6.2},{"t":56.75,"v":7.2},{"t":57,"v":5.8},{"t":57.25,"v":6.6},{"t":57.5,"v":6.0},{"t":57.75,"v":7.0},{"t":58,"v":5.4},{"t":58.25,"v":6.1},{"t":58.5,"v":5.6},{"t":58.75,"v":6.4},{"t":59,"v":4.8},{"t":59.25,"v":5.6},{"t":59.5,"v":5.0},{"t":59.75,"v":6.0},{"t":60,"v":4.9},{"t":60.25,"v":5.7},{"t":60.5,"v":5.1},{"t":60.75,"v":6.1},{"t":61,"v":5.0},{"t":61.25,"v":5.8},{"t":61.5,"v":5.2},{"t":61.75,"v":6.2},{"t":62,"v":5.1},{"t":62.25,"v":5.7},{"t":62.5,"v":5.3},{"t":62.75,"v":6.0},{"t":63,"v":5.2},{"t":63.25,"v":5.9},{"t":63.5,"v":5.4},{"t":63.75,"v":6.3},{"t":64,"v":5.1},{"t":64.25,"v":5.8},{"t":64.5,"v":5.3},{"t":64.75,"v":6.1},{"t":65,"v":5.0},{"t":65.25,"v":5.8},{"t":65.5,"v":5.2},{"t":65.75,"v":6.2},{"t":66,"v":5.2},{"t":66.25,"v":6.0},{"t":66.5,"v":5.4},{"t":66.75,"v":6.5},{"t":67,"v":5.8},{"t":67.25,"v":6.5},{"t":67.5,"v":6.0},{"t":67.75,"v":6.8},{"t":68,"v":6.3},{"t":68.25,"v":7.0},{"t":68.5,"v":6.5},{"t":68.75,"v":7.4},{"t":69,"v":6.5},{"t":69.25,"v":7.3},{"t":69.5,"v":6.7},{"t":69.75,"v":7.8},{"t":70,"v":6.4},{"t":70.25,"v":7.2},{"t":70.5,"v":6.6},{"t":70.75,"v":7.6},{"t":71,"v":6.6},{"t":71.25,"v":7.4},{"t":71.5,"v":6.8},{"t":71.75,"v":7.8},{"t":72,"v":6.3},{"t":72.25,"v":7.1},{"t":72.5,"v":6.5},{"t":72.75,"v":7.5},{"t":73,"v":6.2},{"t":73.25,"v":7.0},{"t":73.5,"v":6.4},{"t":73.75,"v":7.3},{"t":74,"v":6.1},{"t":74.25,"v":6.9},{"t":74.5,"v":6.3},{"t":74.75,"v":7.2},{"t":75,"v":6.5},{"t":75.25,"v":7.2},{"t":75.5,"v":6.7},{"t":75.75,"v":7.6},{"t":76,"v":6.6},{"t":76.25,"v":7.4},{"t":76.5,"v":6.8},{"t":76.75,"v":8.0},{"t":77,"v":6.4},{"t":77.25,"v":7.3},{"t":77.5,"v":6.6},{"t":77.75,"v":7.7},{"t":78,"v":6.2},{"t":78.25,"v":7.1},{"t":78.5,"v":6.4},{"t":78.75,"v":7.5},{"t":79,"v":5.9},{"t":79.25,"v":6.8},{"t":79.5,"v":6.1},{"t":79.75,"v":7.2},{"t":80,"v":5.8},{"t":80.25,"v":6.7},{"t":80.5,"v":6.0},{"t":80.75,"v":7.1},{"t":81,"v":5.9},{"t":81.25,"v":6.6},{"t":81.5,"v":6.1},{"t":81.75,"v":7.0},{"t":82,"v":5.6},{"t":82.25,"v":6.4},{"t":82.5,"v":5.8},{"t":82.75,"v":6.8},{"t":83,"v":5.7},{"t":83.25,"v":6.5},{"t":83.5,"v":5.9},{"t":83.75,"v":6.9},{"t":84,"v":5.9},{"t":84.25,"v":6.7},{"t":84.5,"v":6.1},{"t":84.75,"v":7.1},{"t":85,"v":5.6},{"t":85.25,"v":6.4},{"t":85.5,"v":5.8},{"t":85.75,"v":6.8},{"t":86,"v":5.7},{"t":86.25,"v":6.4},{"t":86.5,"v":5.9},{"t":86.75,"v":6.7},{"t":87,"v":5.6},{"t":87.25,"v":6.5},{"t":87.5,"v":5.8},{"t":87.75,"v":6.9},{"t":88,"v":5.7},{"t":88.25,"v":6.4},{"t":88.5,"v":5.9},{"t":88.75,"v":6.8},{"t":89,"v":5.4},{"t":89.25,"v":6.2},{"t":89.5,"v":5.6},{"t":89.75,"v":6.6},{"t":90,"v":5.3},{"t":90.25,"v":6.1},{"t":90.5,"v":5.5},{"t":90.75,"v":6.5},{"t":91,"v":5.6},{"t":91.25,"v":6.5},{"t":91.5,"v":5.8},{"t":91.75,"v":6.9},{"t":92,"v":5.9},{"t":92.25,"v":6.7},{"t":92.5,"v":6.1},{"t":92.75,"v":7.0},{"t":93,"v":6.1},{"t":93.25,"v":6.9},{"t":93.5,"v":6.3},{"t":93.75,"v":7.2},{"t":94,"v":6.0},{"t":94.25,"v":6.8},{"t":94.5,"v":6.2},{"t":94.75,"v":7.1},{"t":95,"v":6.2},{"t":95.25,"v":7.0},{"t":95.5,"v":6.4},{"t":95.75,"v":7.4},{"t":96,"v":6.1},{"t":96.25,"v":6.9},{"t":96.5,"v":6.3},{"t":96.75,"v":7.2},{"t":97,"v":6.2},{"t":97.25,"v":7.1},{"t":97.5,"v":6.4},{"t":97.75,"v":7.6},{"t":98,"v":6.3},{"t":98.25,"v":7.2},{"t":98.5,"v":6.5},{"t":98.75,"v":7.5},{"t":99,"v":6.4},{"t":99.25,"v":7.2},{"t":99.5,"v":6.6},{"t":99.75,"v":8.0},{"t":100,"v":7.0}]
  },
  "vconcat": [
    {
      "spacing": 96,
      "hconcat": [
        {
          "width": 348, "height": 272,
          "layer": [
            {"data": {"name": "o1"}, "mark": {"type": "line", "color": "#6a9c59", "strokeWidth": 1.2},
             "encoding": {
               "x": {"field": "t", "type": "quantitative", "scale": {"domain": [0, 100], "nice": false}, "axis": {"values": [20, 40, 60, 80, 100], "title": "Time, ns", "titleFontSize": 17.5, "labelFontSize": 13.5}},
               "y": {"field": "v", "type": "quantitative", "scale": {"domain": [0, 10], "nice": false}, "axis": {"values": [0, 2, 4, 6, 8, 10], "title": "RMSD, Å", "titleFontSize": 17.5, "labelFontSize": 13.5}}}},
            {"data": {"values": [{"t": 73.5, "v": 1.62, "s": "open model"}, {"t": 74.1, "v": 0.44, "s": "run 1"}]},
             "mark": {"type": "text", "fontSize": 27, "baseline": "alphabetic", "align": "center", "color": "#000000", "font": "Liberation Sans"},
             "encoding": {
               "x": {"field": "t", "type": "quantitative", "axis": {"orient": "top", "labels": false, "title": null, "values": [20, 40, 60, 80, 100]}},
               "y": {"field": "v", "type": "quantitative", "axis": {"orient": "right", "labels": false, "title": null, "values": [0, 2, 4, 6, 8, 10]}},
               "text": {"field": "s"}}}
          ],
          "resolve": {"axis": {"x": "independent", "y": "independent"}}
        },
        {
          "width": 347, "height": 271,
          "layer": [
            {"data": {"name": "o2"}, "mark": {"type": "line", "color": "#e99aa8", "strokeWidth": 1.2},
             "encoding": {
               "x": {"field": "t", "type": "quantitative", "scale": {"domain": [0, 100], "nice": false}, "axis": {"values": [20, 40, 60, 80, 100], "title": "Time, ns", "titleFontSize": 17.5, "labelFontSize": 13.5}},
               "y": {"field": "v", "type": "quantitative", "scale": {"domain": [0, 8], "nice": false}, "axis": {"values": [0, 1, 2, 3, 4, 5, 6, 7, 8], "title": "RMSD, Å", "titleFontSize": 17.5, "labelFontSize": 13.5}}}},
            {"data": {"values": [{"t": 76.2, "v": 1.25, "s": "open model"}, {"t": 80.7, "v": 0.27, "s": "run 2"}]},
             "mark": {"type": "text", "fontSize": 27, "baseline": "alphabetic", "align": "center", "color": "#000000", "font": "Liberation Sans"},
             "encoding": {
               "x": {"field": "t", "type": "quantitative", "axis": {"orient": "top", "labels": false, "title": null, "values": [20, 40, 60, 80, 100]}},
               "y": {"field": "v", "type": "quantitative", "axis": {"orient": "right", "labels": false, "title": null, "values": [0, 1, 2, 3, 4, 5, 6, 7, 8]}},
               "text": {"field": "s"}}}
          ],
          "resolve": {"axis": {"x": "independent", "y": "independent"}}
        }
      ]
    },
    {
      "spacing": 96,
      "hconcat": [
        {
          "width": 348, "height": 271,
          "layer": [
            {"data": {"name": "c1"}, "mark": {"type": "line", "color": "#7840c0", "strokeWidth": 1.2},
             "encoding": {
               "x": {"field": "t", "type": "quantitative", "scale": {"domain": [0, 100], "nice": false}, "axis": {"values": [20, 40, 60, 80, 100], "title": "Time, ns", "titleFontSize": 17.5, "labelFontSize": 13.5, "titlePadding": 9}},
               "y": {"field": "v", "type": "quantitative", "scale": {"domain": [0, 7], "nice": false}, "axis": {"values": [0, 1, 2, 3, 4, 5, 6, 7], "title": "RMSD, Å", "titleFontSize": 17.5, "labelFontSize": 13.5}}}},
            {"data": {"values": [{"t": 72.6, "v": 1.23, "s": "closed model"}, {"t": 77.2, "v": 0.38, "s": "run 1"}]},
             "mark": {"type": "text", "fontSize": 27, "baseline": "alphabetic", "align": "center", "color": "#000000", "font": "Liberation Sans"},
             "encoding": {
               "x": {"field": "t", "type": "quantitative", "axis": {"orient": "top", "labels": false, "title": null, "values": [20, 40, 60, 80, 100]}},
               "y": {"field": "v", "type": "quantitative", "axis": {"orient": "right", "labels": false, "title": null, "values": [0, 1, 2, 3, 4, 5, 6, 7]}},
               "text": {"field": "s"}}}
          ],
          "resolve": {"axis": {"x": "independent", "y": "independent"}}
        },
        {
          "width": 350, "height": 271,
          "layer": [
            {"data": {"name": "c2"}, "mark": {"type": "line", "color": "#1fa88d", "strokeWidth": 1.2},
             "encoding": {
               "x": {"field": "t", "type": "quantitative", "scale": {"domain": [0, 100], "nice": false}, "axis": {"values": [20, 40, 60, 80, 100], "title": "Time, ns", "titleFontSize": 17.5, "labelFontSize": 13.5, "titlePadding": 9}},
               "y": {"field": "v", "type": "quantitative", "scale": {"domain": [0, 9], "nice": false}, "axis": {"values": [0, 1, 2, 3, 4, 5, 6, 7, 8, 9], "title": "RMSD, Å", "titleFontSize": 17.5, "labelFontSize": 13.5}}}},
            {"data": {"values": [{"t": 72.4, "v": 1.62, "s": "closed model"}, {"t": 77.1, "v": 0.52, "s": "run 2"}]},
             "mark": {"type": "text", "fontSize": 27, "baseline": "alphabetic", "align": "center", "color": "#000000", "font": "Liberation Sans"},
             "encoding": {
               "x": {"field": "t", "type": "quantitative", "axis": {"orient": "top", "labels": false, "title": null, "values": [20, 40, 60, 80, 100]}},
               "y": {"field": "v", "type": "quantitative", "axis": {"orient": "right", "labels": false, "title": null, "values": [0, 1, 2, 3, 4, 5, 6, 7, 8, 9]}},
               "text": {"field": "s"}}}
          ],
          "resolve": {"axis": {"x": "independent", "y": "independent"}}
        }
      ]
    }
  ]
}
